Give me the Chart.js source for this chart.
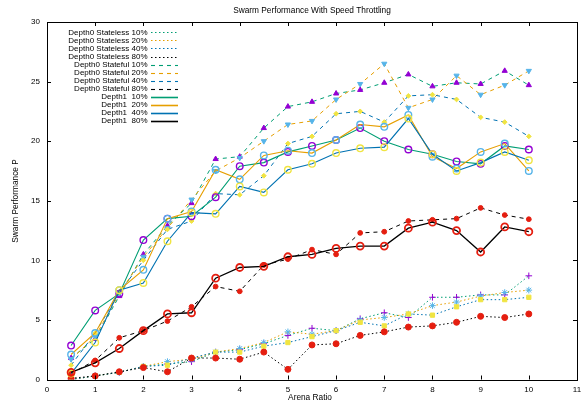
<!DOCTYPE html>
<html>
<head>
<meta charset="utf-8">
<script src="https://cdn.jsdelivr.net/npm/chart.js@4.4.1/dist/chart.umd.min.js"></script>
<style>
  html, body { margin: 0; padding: 0; background: #fff; }
</style>
</head>
<body>
<canvas id="chart" width="587" height="405"></canvas>
<script>
// values
const arenaRatio = [0.5, 1, 1.5, 2, 2.5, 3, 3.5, 4, 4.5, 5, 5.5, 6, 6.5, 7, 7.5, 8, 8.5, 9, 9.5, 10];

const stateless10 = [0, 0.3, 0.6, 1.1, 1.3, 1.5, 2.3, 2.5, 3.0, 3.7, 4.3, 4.1, 5.1, 5.6, 5.2, 6.9, 6.9, 7.1, 7.1, 8.7];
const stateless20 = [0, 0.3, 0.6, 1.1, 1.5, 1.7, 2.3, 2.6, 3.1, 4.0, 3.8, 4.1, 5.0, 5.2, 5.5, 6.2, 6.5, 7.0, 7.3, 7.5];
const stateless40 = [0, 0.3, 0.6, 1.1, 1.2, 1.8, 2.3, 2.3, 2.8, 3.1, 3.6, 4.1, 4.8, 4.5, 5.5, 5.4, 6.1, 6.7, 6.7, 6.9];
const stateless80 = [0.1, 0.3, 0.65, 1.0, 0.65, 1.8, 1.8, 1.7, 2.3, 0.85, 2.9, 3.0, 3.7, 4.0, 4.4, 4.5, 4.8, 5.3, 5.2, 5.5];

const stateful10 = [1.8, 3.4, 7.0, 10.5, 12.9, 14.8, 18.5, 18.7, 21.1, 22.9, 23.3, 24.0, 24.3, 24.9, 25.6, 24.6, 24.9, 24.8, 25.9, 24.7];
const stateful20 = [1.7, 3.6, 7.2, 10.3, 12.7, 15.1, 17.5, 18.6, 20.0, 21.4, 21.7, 23.5, 24.8, 26.5, 22.8, 23.5, 25.5, 23.9, 24.7, 25.9];
const stateful40 = [1.2, 3.9, 7.3, 10.0, 12.6, 13.3, 15.6, 15.5, 17.1, 19.8, 20.4, 22.3, 22.5, 21.6, 23.8, 23.9, 23.5, 22.0, 21.6, 20.4];
const stateful80 = [0.5, 1.6, 3.5, 4.1, 4.9, 6.1, 7.8, 7.4, 9.6, 10.1, 10.9, 10.5, 12.3, 12.4, 13.3, 13.4, 13.5, 14.4, 13.8, 13.45];

const depth1p10 = [2.85, 5.8, 7.2, 11.7, 13.5, 13.7, 15.3, 17.9, 18.2, 19.1, 19.6, 20.1, 21.1, 20.0, 19.3, 18.9, 18.3, 18.1, 19.6, 19.3];
const depth1p20 = [2.1, 3.9, 7.5, 9.2, 13.5, 14.1, 17.6, 16.8, 18.8, 19.2, 19.0, 20.1, 21.4, 21.2, 22.2, 18.7, 17.7, 19.1, 19.8, 17.5];
const depth1p40 = [0.5, 3.1, 7.5, 8.1, 11.6, 14.0, 13.9, 16.2, 15.7, 17.6, 18.1, 19.0, 19.4, 19.5, 21.9, 18.9, 17.5, 18.2, 19.1, 18.4];
const depth1p80 = [0.6, 1.4, 2.6, 4.1, 5.5, 5.6, 8.5, 9.4, 9.5, 10.3, 10.5, 11.0, 11.2, 11.2, 12.7, 13.2, 12.5, 10.7, 12.8, 12.4];

const xTickValues = [0, 1, 2, 3, 4, 5, 6, 7, 8, 9, 10, 11];
const yTickValues = [0, 5, 10, 15, 20, 25, 30];

const FONT = '"Liberation Sans", Arial, sans-serif';
const GREEN = '#009e73', ORANGE = '#e69f00', BLUE = '#0072b2', BLACK = '#000000';
const PURPLE = '#9400d3', SKY = '#56b4e9', YELLOW = '#f0e442', RED = '#e51e10';
const DOTTED = [1.5, 2.5], DASHED = [4, 4];

const toPoints = (values) => values.map((v, i) => ({ x: arenaRatio[i], y: v }));

const makeSeries = (label, values, line, dash, width, mark) => ({
    label,
    data: toPoints(values),
    borderColor: line,
    borderDash: dash,
    borderWidth: width,
    tension: 0,
    fill: false,
    pointStyle: mark.style,
    pointRadius: mark.radius,
    pointRotation: mark.rotation || 0,
    pointBackgroundColor: mark.fill ? mark.color : 'rgba(0,0,0,0)',
    pointBorderColor: mark.color,
    pointBorderWidth: mark.border || 1,
    pointHoverRadius: mark.radius
});

const datasets = [
    makeSeries('Depth0 Stateless 10%', stateless10, GREEN, DOTTED, 1, { style: 'cross', color: PURPLE, radius: 3.3 }),
    makeSeries('Depth0 Stateless 20%', stateless20, ORANGE, DOTTED, 1, { style: 'star', color: SKY, radius: 3.3 }),
    makeSeries('Depth0 Stateless 40%', stateless40, BLUE, DOTTED, 1, { style: 'rect', color: YELLOW, radius: 3, fill: true }),
    makeSeries('Depth0 Stateless 80%', stateless80, BLACK, DOTTED, 1, { style: 'circle', color: RED, radius: 3, fill: true }),
    makeSeries('Depth0 Stateful 10%', stateful10, GREEN, DASHED, 1, { style: 'triangle', color: PURPLE, radius: 3, fill: true }),
    makeSeries('Depth0 Stateful 20%', stateful20, ORANGE, DASHED, 1, { style: 'triangle', rotation: 180, color: SKY, radius: 3, fill: true }),
    makeSeries('Depth0 Stateful 40%', stateful40, BLUE, DASHED, 1, { style: 'rectRot', color: YELLOW, radius: 2.4, fill: true }),
    makeSeries('Depth0 Stateful 80%', stateful80, BLACK, DASHED, 1, { style: 'circle', color: RED, radius: 2.4, fill: true }),
    makeSeries('Depth1  10%', depth1p10, GREEN, [], 1.1, { style: 'circle', color: PURPLE, radius: 3.3, border: 1.4 }),
    makeSeries('Depth1  20%', depth1p20, ORANGE, [], 1.1, { style: 'circle', color: SKY, radius: 3.3, border: 1.4 }),
    makeSeries('Depth1  40%', depth1p40, BLUE, [], 1.1, { style: 'circle', color: YELLOW, radius: 3.3, border: 1.4 }),
    makeSeries('Depth1  80%', depth1p80, BLACK, [], 1.3, { style: 'circle', color: RED, radius: 3.5, border: 1.8 })
];
// gnuplot draws later plots on top
datasets.forEach((d, i) => { d.order = datasets.length - i; });

// frame, inward ticks, title, axis labels and the key
const gnuplotDecor = {
    id: 'gnuplotDecor',
    afterDatasetsDraw(chart) {
        const { ctx, chartArea: a, scales } = chart;
        ctx.save();
        ctx.strokeStyle = '#000';
        ctx.lineWidth = 1;
        ctx.setLineDash([]);
        ctx.strokeRect(Math.round(a.left) + 0.5, Math.round(a.top) + 0.5,
            Math.round(a.right - a.left), Math.round(a.bottom - a.top));
        ctx.beginPath();
        xTickValues.forEach(v => {
            const x = Math.round(scales.x.getPixelForValue(v)) + 0.5;
            ctx.moveTo(x, a.bottom); ctx.lineTo(x, a.bottom - 4);
            ctx.moveTo(x, a.top); ctx.lineTo(x, a.top + 4);
        });
        yTickValues.forEach(v => {
            const y = Math.round(scales.y.getPixelForValue(v)) + 0.5;
            ctx.moveTo(a.left, y); ctx.lineTo(a.left + 4, y);
            ctx.moveTo(a.right, y); ctx.lineTo(a.right - 4, y);
        });
        ctx.stroke();

        ctx.fillStyle = '#000';
        ctx.font = '8.3px ' + FONT;
        ctx.textAlign = 'center';
        ctx.textBaseline = 'middle';
        ctx.fillText('Swarm Performance With Speed Throttling', (a.left + a.right) / 2, 11);
        ctx.fillText('Arena Ratio', 310, 398);
        ctx.save();
        ctx.translate(16, 201);
        ctx.rotate(-Math.PI / 2);
        ctx.fillText('Swarm Performance P', 0, 0);
        ctx.restore();

        ctx.font = '8px ' + FONT;
        ctx.textAlign = 'right';
        chart.data.datasets.forEach((d, i) => {
            const y = 32.3 + i * 8.07;
            ctx.fillStyle = '#000';
            ctx.fillText(d.label, 147.5, y);
            ctx.strokeStyle = d.borderColor;
            ctx.lineWidth = i >= 8 ? 1.6 : 1.1;
            ctx.setLineDash(d.borderDash);
            ctx.beginPath();
            ctx.moveTo(151, Math.round(y) + 0.5);
            ctx.lineTo(178, Math.round(y) + 0.5);
            ctx.stroke();
        });
        ctx.restore();
    }
};

Chart.defaults.font.family = FONT;
Chart.defaults.font.size = 8;
Chart.defaults.color = '#000';

new Chart(document.getElementById('chart'), {
    type: 'line',
    data: { datasets },
    options: {
        responsive: false,
        animation: false,
        events: [],
        layout: { padding: { top: 22, right: 10, left: 0, bottom: 0 } },
        plugins: { legend: { display: false }, tooltip: { enabled: false }, title: { display: false } },
        scales: {
            x: {
                type: 'linear', min: 0, max: 11,
                afterBuildTicks: (s) => { s.ticks = xTickValues.map(v => ({ value: v })); },
                afterFit: (s) => { s.height = 25.5; },
                grid: { display: false, drawTicks: false },
                border: { display: false },
                ticks: { padding: 5, maxRotation: 0, autoSkip: false, font: { size: 8 } }
            },
            y: {
                type: 'linear', min: 0, max: 30,
                afterBuildTicks: (s) => { s.ticks = yTickValues.map(v => ({ value: v })); },
                afterFit: (s) => { s.width = 47; },
                grid: { display: false, drawTicks: false },
                border: { display: false },
                ticks: { padding: 7, autoSkip: false, font: { size: 8 } }
            }
        }
    },
    plugins: [gnuplotDecor]
});
</script>
</body>
</html>
